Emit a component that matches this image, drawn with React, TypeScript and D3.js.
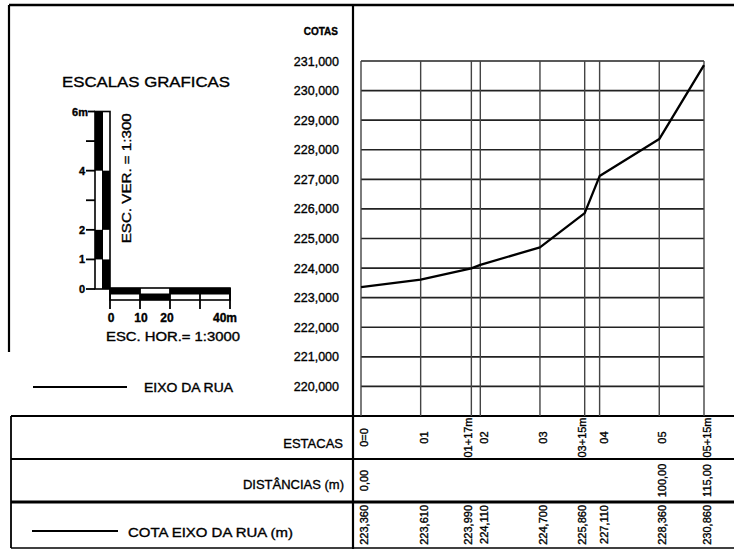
import React from "react";
import * as d3 from "d3";

// ---- data ----
const estacas = ["0=0", "01", "01+17m", "02", "03", "03+15m", "04", "05", "05+15m"];
const distAcum = [0, 20, 37, 40, 60, 75, 80, 100, 115];
const cotas = [223.36, 223.61, 223.99, 224.11, 224.7, 225.86, 227.11, 228.36, 230.86];
const distLabels = ["0,00", "", "", "", "", "", "", "100,00", "115,00"];
const cotaTicks = [231, 230, 229, 228, 227, 226, 225, 224, 223, 222, 221, 220];
const vBarTicks = [0, 1, 2, 3, 4, 5, 6];
const vBarLabels = [
  { v: 6, t: "6m" },
  { v: 4, t: "4" },
  { v: 2, t: "2" },
  { v: 1, t: "1" },
  { v: 0, t: "0" },
];
const hBarTicks = [0, 10, 20, 30, 40];
const hBarLabels = [
  { v: 0, t: "0" },
  { v: 10, t: "10" },
  { v: 20, t: "20" },
  { v: 40, t: "40m" },
];
// segments: [from, to, inner?]
const vBarSegs: [number, number, boolean][] = [
  [0, 1, true],
  [1, 2, false],
  [2, 4, true],
  [4, 6, false],
];
const hBarSegs: [number, number, boolean][] = [
  [0, 10, true],
  [10, 20, false],
  [20, 40, true],
];

const FONT = "'Liberation Sans', Arial, sans-serif";

export default function App() {
  const x = d3.scaleLinear().domain([0, 115]).range([361, 704]);
  const y = d3.scaleLinear().domain([219, 231]).range([416, 61]);
  const fmtCota = (v: number) => d3.format(".3f")(v).replace(".", ",");
  const fmtTick = (v: number) => d3.format(".3f")(v).replace(".", ",");

  const line = d3
    .line<number>()
    .x((_, i) => x(distAcum[i]))
    .y((d) => y(d));

  // scale bars
  const vb = d3.scaleLinear().domain([0, 6]).range([289, 289 - 6 * (355 / 12)]);
  const hb = d3.scaleLinear().domain([0, 40]).range([110, 230]);
  const vbL = 95,
    vbR = 110,
    vbM = 102.5;
  const hbT = 288,
    hbB = 300,
    hbM = 294;

  const labelX = (i: number) => {
    const xi = x(distAcum[i]);
    const next = i < distAcum.length - 1 ? x(distAcum[i + 1]) - xi : 999;
    const prev = i > 0 ? xi - x(distAcum[i - 1]) : 999;
    if (next < 20) return xi - 3;
    if (prev < 20) return xi + 4;
    return xi + 3;
  };

  const rowE = (416 + 459) / 2;
  const rowD = (459 + 502) / 2;

  return (
    <svg
      width={734}
      height={549}
      style={{ position: "absolute", left: 0, top: 0, background: "#fff" }}
      fontFamily={FONT}
    >
      <rect x={0} y={0} width={734} height={549} fill="#fff" />
      {/* frame */}
      <g stroke="#000" fill="none">
        <line x1={9} y1={5} x2={734} y2={5} strokeWidth={2.4} />
        <line x1={9} y1={5} x2={9} y2={352} strokeWidth={2.2} />
        <line x1={353} y1={5} x2={353} y2={549} strokeWidth={2.2} />
        <line x1={11} y1={416} x2={734} y2={416} strokeWidth={1.8} />
        <line x1={11} y1={416} x2={11} y2={548} strokeWidth={1.8} />
        <line x1={11} y1={459} x2={734} y2={459} strokeWidth={1.8} />
        <line x1={11} y1={502} x2={734} y2={502} strokeWidth={2.8} />
        <line x1={11} y1={548} x2={734} y2={548} strokeWidth={1.4} />
      </g>

      {/* grid */}
      <g stroke="#222" fill="none">
        {cotaTicks.map((t) => (
          <line key={"h" + t} x1={x(0)} x2={x(115)} y1={y(t)} y2={y(t)} strokeWidth={1.6} />
        ))}
        {distAcum.map((d, i) => (
          <line key={"v" + i} x1={x(d)} x2={x(d)} y1={y(231)} y2={y(219)} strokeWidth={1.4} stroke="#444" />
        ))}
      </g>

      {/* profile */}
      <path d={line(cotas) || ""} fill="none" stroke="#000" strokeWidth={2.3} strokeLinejoin="round" />

      <g stroke="#000" strokeWidth={0.35}>
        {/* y labels */}
        <text x={338} y={31} textAnchor="end" dominantBaseline="central" fontSize={10} fontWeight="bold">
          COTAS
        </text>
        {cotaTicks.map((t) => (
          <text key={"t" + t} x={339} y={y(t) + 0.5} textAnchor="end" dominantBaseline="central" fontSize={12.5}>
            {fmtTick(t)}
          </text>
        ))}

        {/* title */}
        <text x={62} y={81} dominantBaseline="central" fontSize={15} textLength={168} lengthAdjust="spacingAndGlyphs">
          ESCALAS  GRAFICAS
        </text>

        {vBarLabels.map((l) => (
          <text
            key={"vl" + l.v}
            x={l.v === 6 ? 88 : 85}
            y={vb(l.v)}
            textAnchor="end"
            dominantBaseline="central"
            fontSize={11}
            fontWeight="bold"
          >
            {l.t}
          </text>
        ))}
        <text
          transform={`translate(127,${(vb(6) + 245) / 2}) rotate(-90)`}
          textAnchor="middle"
          dominantBaseline="central"
          fontSize={12}
          textLength={130}
          lengthAdjust="spacingAndGlyphs"
        >
          ESC.  VER.  =  1:300
        </text>

        {hBarLabels.map((l) => (
          <text
            key={"hl" + l.v}
            x={l.v === 40 ? hb(l.v) - 17 : hb(l.v) + (l.v === 20 ? -3 : 1)}
            y={322}
            textAnchor={l.v === 40 ? "start" : "middle"}
            fontSize={12}
            fontWeight="bold"
          >
            {l.t}
          </text>
        ))}
        <text x={106} y={341} fontSize={12} textLength={134} lengthAdjust="spacingAndGlyphs">
          ESC.  HOR.=  1:3000
        </text>

        <text x={144} y={388} dominantBaseline="central" fontSize={12} textLength={89} lengthAdjust="spacingAndGlyphs">
          EIXO  DA  RUA
        </text>

        {/* table row labels */}
        <text x={343} y={rowE + 6} textAnchor="end" dominantBaseline="central" fontSize={13}>
          ESTACAS
        </text>
        <text x={344} y={rowD + 4} textAnchor="end" dominantBaseline="central" fontSize={13}>
          DISTÂNCIAS (m)
        </text>
        <text x={128} y={532} dominantBaseline="central" fontSize={13} textLength={165} lengthAdjust="spacingAndGlyphs">
          COTA  EIXO DA RUA (m)
        </text>

        {/* table values */}
        {estacas.map((e, i) => (
          <text
            key={"e" + i}
            transform={`translate(${labelX(i)},${rowE}) rotate(-90)`}
            textAnchor="middle"
            dominantBaseline="central"
            fontSize={11}
          >
            {e}
          </text>
        ))}
        {distLabels.map((d, i) =>
          d ? (
            <text
              key={"d" + i}
              transform={`translate(${labelX(i)},${rowD}) rotate(-90)`}
              textAnchor="middle"
              dominantBaseline="central"
              fontSize={11}
            >
              {d}
            </text>
          ) : null
        )}
        {cotas.map((c, i) => (
          <text
            key={"c" + i}
            transform={`translate(${labelX(i)},505) rotate(-90)`}
            textAnchor="end"
            dominantBaseline="central"
            fontSize={11}
          >
            {fmtCota(c)}
          </text>
        ))}
      </g>

      {/* vertical scale bar */}
      <g stroke="#000">
        {vBarSegs.map(([a, b, inner], i) => (
          <rect
            key={"vs" + i}
            x={inner ? vbM : vbL}
            y={vb(b)}
            width={vbR - vbM}
            height={vb(a) - vb(b)}
            fill="#000"
            strokeWidth={0}
          />
        ))}
        <rect x={vbL} y={vb(6)} width={vbR - vbL} height={vb(0) - vb(6)} fill="none" strokeWidth={1.6} />
        <line x1={vbM} x2={vbM} y1={vb(6)} y2={vb(0)} strokeWidth={1} />
        {vBarTicks.map((t) => (
          <line key={"vt" + t} x1={t === 6 ? 88 : 86} x2={vbL} y1={vb(t)} y2={vb(t)} strokeWidth={1.8} />
        ))}
      </g>

      {/* horizontal scale bar */}
      <g stroke="#000">
        {hBarSegs.map(([a, b, inner], i) => (
          <rect
            key={"hs" + i}
            x={hb(a)}
            y={inner ? hbT : hbM}
            width={hb(b) - hb(a)}
            height={hbB - hbM}
            fill="#000"
            strokeWidth={0}
          />
        ))}
        <rect x={hb(0)} y={hbT} width={hb(40) - hb(0)} height={hbB - hbT} fill="none" strokeWidth={1.6} />
        <line x1={hb(0)} x2={hb(40)} y1={hbM} y2={hbM} strokeWidth={1} />
        {hBarTicks.map((t) => (
          <line key={"ht" + t} x1={hb(t)} x2={hb(t)} y1={hbT} y2={309} strokeWidth={1.8} />
        ))}
      </g>

      {/* legends */}
      <line x1={33} x2={127} y1={387} y2={387} stroke="#000" strokeWidth={2.2} />
      <line x1={32} x2={118} y1={531} y2={531} stroke="#000" strokeWidth={2} />
    </svg>
  );
}
